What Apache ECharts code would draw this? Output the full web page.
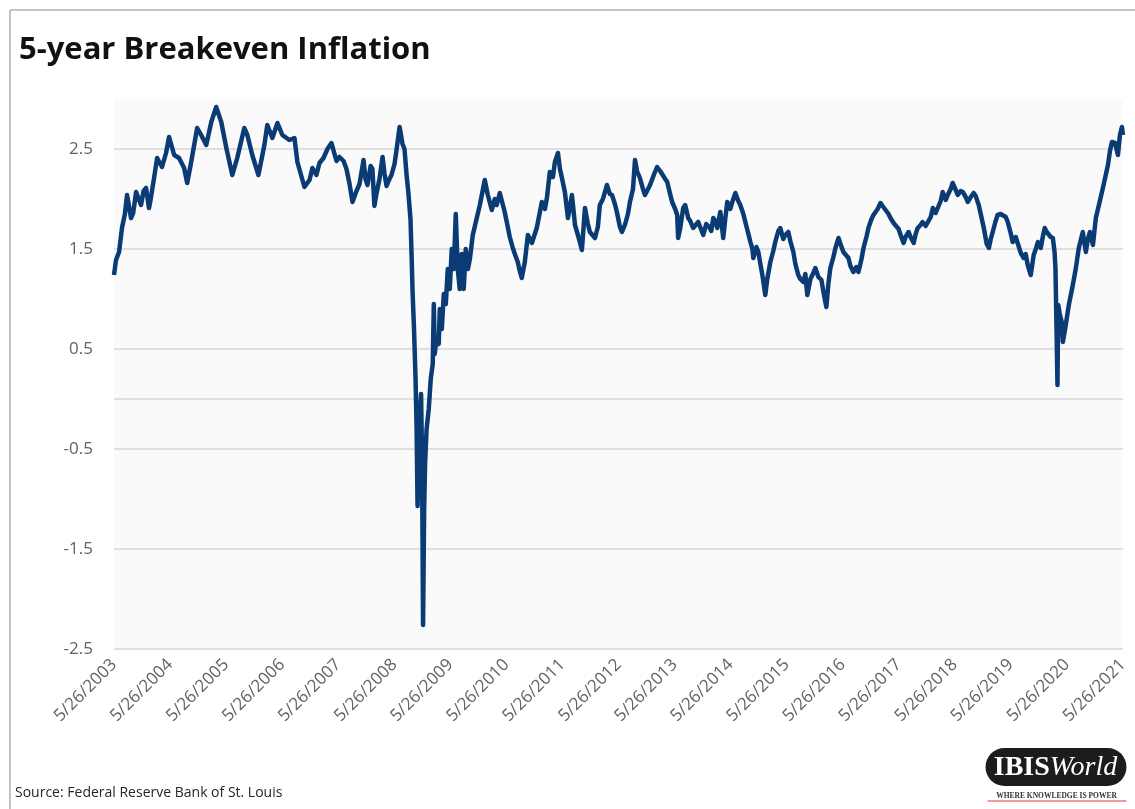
<!DOCTYPE html>
<html>
<head>
<meta charset="utf-8">
<script src="https://cdn.jsdelivr.net/npm/echarts@6/dist/echarts.min.js"></script>
<style>
  html, body { margin: 0; padding: 0; background: #ffffff; }
  #chart { width: 1135px; height: 809px; }
</style>
</head>
<body>
<div id="chart"></div>
<script>
// 5-year breakeven inflation rate (%), sampled observations
const dates = [
  '2003-05-26','2003-06-08','2003-06-28','2003-07-17','2003-08-05','2003-08-19','2003-09-01','2003-09-14','2003-09-28','2003-10-17','2003-10-30','2003-11-18','2003-12-05','2003-12-21',
  '2004-01-09','2004-01-20','2004-02-11','2004-03-02','2004-04-03','2004-04-29','2004-05-19','2004-06-21','2004-07-23','2004-08-25','2004-09-14','2004-10-10','2004-11-18','2004-12-14',
  '2005-01-16','2005-02-18','2005-03-22','2005-04-24','2005-05-27','2005-07-05','2005-08-06','2005-09-21','2005-10-11','2005-11-12','2005-12-22',
  '2006-01-30','2006-02-18','2006-03-23','2006-04-25','2006-05-27','2006-07-12','2006-08-14','2006-09-02','2006-10-18','2006-11-20','2006-12-09',
  '2007-01-04','2007-01-24','2007-02-19','2007-03-17','2007-04-12','2007-05-02','2007-05-15','2007-06-03','2007-06-30','2007-07-19','2007-08-08','2007-08-27','2007-09-22','2007-10-12','2007-11-07','2007-11-20','2007-12-03','2007-12-23',
  '2008-01-04','2008-01-17','2008-01-30','2008-02-19','2008-03-10','2008-03-23','2008-04-05','2008-04-24','2008-05-07','2008-05-27','2008-06-09','2008-06-29','2008-07-18','2008-07-31','2008-08-13','2008-08-26','2008-09-08','2008-09-15','2008-09-21','2008-10-01','2008-10-11','2008-10-18','2008-10-24','2008-10-31','2008-11-06','2008-11-16','2008-11-22','2008-11-29','2008-12-06','2008-12-12','2008-12-22',
  '2009-01-05','2009-01-18','2009-01-31','2009-02-07','2009-02-13','2009-02-26','2009-03-11','2009-03-18','2009-03-31','2009-04-13','2009-04-26','2009-05-09','2009-05-22','2009-06-04','2009-06-17','2009-06-30','2009-07-13','2009-07-26','2009-08-08','2009-08-21','2009-09-03','2009-09-17','2009-09-30','2009-10-19','2009-11-14','2009-12-04',
  '2010-01-05','2010-01-25','2010-02-20','2010-03-11','2010-03-24','2010-04-13','2010-04-26','2010-05-15','2010-06-04','2010-06-17','2010-07-07','2010-07-20','2010-08-08','2010-08-21','2010-09-03','2010-09-23','2010-10-13','2010-11-08','2010-12-10',
  '2011-01-12','2011-02-01','2011-02-14','2011-03-05','2011-03-25','2011-04-07','2011-04-27','2011-05-10','2011-05-23','2011-06-11','2011-07-01','2011-07-27','2011-08-16','2011-09-04','2011-09-30','2011-10-20','2011-11-08','2011-11-21','2011-12-24',
  '2012-01-12','2012-01-25','2012-02-14','2012-03-11','2012-03-30','2012-04-13','2012-05-02','2012-05-15','2012-06-04','2012-06-17','2012-07-06','2012-07-26','2012-08-08','2012-08-28','2012-09-10','2012-09-23','2012-10-12','2012-11-01','2012-11-14','2012-12-04','2012-12-17',
  '2013-01-13','2013-02-01','2013-02-21','2013-03-06','2013-03-26','2013-04-08','2013-04-27','2013-05-10','2013-05-30','2013-06-12','2013-06-18','2013-07-02','2013-07-21','2013-08-03','2013-08-23','2013-09-05','2013-09-24','2013-10-27','2013-11-29','2013-12-18',
  '2014-01-07','2014-01-20','2014-02-02','2014-02-15','2014-02-28','2014-03-20','2014-04-08','2014-04-21','2014-05-04','2014-05-24','2014-06-06','2014-06-26','2014-07-15','2014-07-28','2014-08-17','2014-08-30','2014-09-19','2014-10-02','2014-10-15','2014-10-21','2014-11-10','2014-11-23','2014-12-06','2014-12-19',
  '2015-01-07','2015-01-20','2015-02-09','2015-02-28','2015-03-13','2015-04-02','2015-04-15','2015-05-04','2015-05-17','2015-06-06','2015-06-19','2015-07-09','2015-07-22','2015-08-10','2015-08-23','2015-09-12','2015-09-25','2015-10-08','2015-10-28','2015-11-10','2015-11-29','2015-12-19',
  '2016-01-08','2016-01-21','2016-02-09','2016-02-22','2016-03-06','2016-03-26','2016-04-08','2016-04-28','2016-05-11','2016-05-30','2016-06-12','2016-07-02','2016-07-15','2016-08-03','2016-08-23','2016-09-05','2016-09-25','2016-10-08','2016-10-27','2016-11-09','2016-11-29','2016-12-12',
  '2017-01-08','2017-01-27','2017-02-09','2017-03-01','2017-03-20','2017-04-02','2017-04-22','2017-05-05','2017-05-25','2017-06-07','2017-06-26','2017-07-09','2017-07-29','2017-08-11','2017-08-31','2017-09-13','2017-09-26','2017-10-15','2017-10-28','2017-11-17','2017-11-30','2017-12-20',
  '2018-01-03','2018-01-21','2018-02-03','2018-02-23','2018-03-08','2018-03-28','2018-04-10','2018-04-29','2018-05-12','2018-06-01','2018-06-14','2018-07-03','2018-07-17','2018-08-05','2018-08-18','2018-09-07','2018-09-26','2018-10-09','2018-10-29','2018-11-11','2018-12-01','2018-12-20',
  '2019-01-03','2019-01-15','2019-01-28','2019-02-16','2019-03-01','2019-03-21','2019-04-03','2019-04-23','2019-05-06','2019-05-25','2019-06-07','2019-06-27','2019-07-10','2019-07-30','2019-08-18','2019-08-31','2019-09-13','2019-10-03','2019-10-22','2019-11-05','2019-11-18','2019-12-07','2019-12-20',
  '2020-01-02','2020-01-15','2020-01-28','2020-02-10','2020-02-24','2020-03-06','2020-03-12','2020-03-20','2020-03-25','2020-03-30','2020-04-09','2020-04-22','2020-04-29','2020-05-18','2020-06-07','2020-07-03','2020-07-23','2020-08-11','2020-09-06','2020-09-26','2020-10-09','2020-10-22','2020-11-11','2020-11-30','2020-12-20',
  '2021-01-15','2021-02-04','2021-02-17','2021-03-02','2021-03-15','2021-04-04','2021-04-23','2021-05-06','2021-05-19','2021-05-26'
];
const breakeven = [
  1.24,1.39,1.47,1.71,1.85,2.04,2.02,1.81,1.86,2.07,2.05,1.94,2.08,2.11,
  1.91,2.00,2.21,2.41,2.32,2.46,2.62,2.44,2.41,2.31,2.16,2.37,2.71,2.64,
  2.54,2.77,2.92,2.77,2.51,2.24,2.41,2.71,2.64,2.44,2.24,
  2.54,2.74,2.61,2.76,2.64,2.59,2.61,2.37,2.12,2.19,2.31,
  2.24,2.36,2.41,2.50,2.56,2.45,2.38,2.42,2.38,2.30,2.15,1.97,2.08,2.15,2.39,2.20,2.14,2.33,
  2.30,1.93,2.05,2.20,2.42,2.25,2.13,2.20,2.24,2.35,2.49,2.72,2.55,2.50,2.25,2.05,1.80,1.45,1.10,0.70,0.20,-0.30,-1.07,-0.60,-0.20,0.05,-0.55,-2.26,-1.10,-0.65,-0.30,
  -0.10,0.20,0.35,0.95,0.45,0.62,0.55,0.90,0.70,1.05,0.95,1.30,1.10,1.50,1.30,1.85,1.30,1.10,1.45,1.10,1.50,1.30,1.40,1.64,1.81,1.94,
  2.19,2.04,1.89,2.00,1.94,2.06,2.04,1.87,1.72,1.62,1.51,1.45,1.37,1.28,1.21,1.37,1.64,1.56,1.71,
  1.97,1.90,2.01,2.27,2.22,2.37,2.46,2.30,2.21,2.07,1.81,2.04,1.74,1.64,1.49,1.91,1.75,1.67,1.61,
  1.72,1.94,2.00,2.14,2.05,2.04,1.95,1.87,1.72,1.67,1.74,1.85,1.97,2.10,2.39,2.28,2.21,2.10,2.04,2.10,2.14,
  2.25,2.32,2.28,2.27,2.20,2.17,2.05,1.97,1.90,1.84,1.61,1.71,1.91,1.94,1.81,1.78,1.71,1.77,1.64,1.75,
  1.72,1.68,1.81,1.78,1.71,1.87,1.61,1.80,1.97,1.90,1.97,2.06,1.98,1.94,1.85,1.77,1.65,1.57,1.50,1.41,1.52,1.47,1.35,1.24,
  1.04,1.20,1.37,1.48,1.57,1.68,1.71,1.60,1.64,1.67,1.58,1.47,1.35,1.24,1.20,1.17,1.25,1.04,1.20,1.24,1.31,1.22,
  1.19,1.07,0.92,1.15,1.31,1.42,1.51,1.61,1.55,1.47,1.45,1.41,1.33,1.27,1.32,1.27,1.40,1.51,1.62,1.71,1.80,1.84,
  1.90,1.96,1.93,1.89,1.85,1.81,1.76,1.74,1.70,1.64,1.56,1.62,1.67,1.62,1.56,1.65,1.71,1.74,1.77,1.73,1.72,1.82,
  1.91,1.86,1.87,1.98,2.07,1.99,2.04,2.10,2.16,2.09,2.04,2.08,2.07,2.02,1.97,2.02,2.06,2.03,1.94,1.85,1.71,1.55,
  1.51,1.60,1.67,1.78,1.84,1.85,1.86,1.82,1.77,1.66,1.57,1.62,1.61,1.46,1.41,1.45,1.34,1.24,1.44,1.50,1.57,1.51,1.62,
  1.71,1.67,1.66,1.62,1.61,1.47,1.30,0.60,0.14,0.94,0.85,0.77,0.57,0.74,0.94,1.14,1.31,1.51,1.67,1.47,1.60,1.67,1.54,1.81,1.94,
  2.11,2.25,2.34,2.48,2.57,2.56,2.44,2.64,2.72,2.64
];

// Axis ticks
const xTickDates = [
  '2003-05-26','2004-05-26','2005-05-26','2006-05-26','2007-05-26','2008-05-26','2009-05-26',
  '2010-05-26','2011-05-26','2012-05-26','2013-05-26','2014-05-26','2015-05-26','2016-05-26',
  '2017-05-26','2018-05-26','2019-05-26','2020-05-26','2021-05-26'
];
const yTicks = [-2.5, -1.5, -0.5, 0.5, 1.5, 2.5];

// dates are placed on a numeric (millisecond) axis so the yearly ticks can sit on 5/26
const toTime = s => {
  const p = s.split('-').map(Number);
  return new Date(p[0], p[1] - 1, p[2]).getTime();
};
const xTickValues = xTickDates.map(toTime);
const seriesData = dates.map((d, i) => [toTime(d), breakeven[i]]);

const chart = echarts.init(document.getElementById('chart'), null, { renderer: 'canvas' });

const labelFont = '"Open Sans", "Noto Sans", sans-serif';

chart.setOption({
  animation: false,
  backgroundColor: '#ffffff',
  title: {
    text: '5-year Breakeven Inflation',
    left: 19,
    top: 35,
    padding: 0,
    textStyle: {
      fontFamily: labelFont,
      fontWeight: 'bold',
      fontSize: 31,
      color: '#111111'
    }
  },
  grid: {
    left: 114,
    right: 12,
    top: 99,
    bottom: 160,
    show: true,
    backgroundColor: '#fafafa',
    borderWidth: 0,
    containLabel: false,
    outerBoundsMode: 'none'
  },
  xAxis: {
    type: 'value',
    min: xTickValues[0],
    max: xTickValues[xTickValues.length - 1],
    axisLine: { show: false, onZero: false },
    axisTick: { show: false, customValues: xTickValues },
    splitLine: { show: false },
    axisLabel: {
      customValues: xTickValues,
      rotate: 45,
      margin: 13,
      color: '#626262',
      fontFamily: labelFont,
      fontSize: 17,
      hideOverlap: false,
      showMinLabel: true,
      showMaxLabel: true,
      formatter: function (value) {
        const d = new Date(value);
        return (d.getMonth() + 1) + '/' + d.getDate() + '/' + d.getFullYear();
      }
    }
  },
  yAxis: {
    type: 'value',
    min: -2.5,
    max: 3,
    axisLine: { show: false },
    axisTick: { show: false, customValues: yTicks },
    axisLabel: {
      customValues: yTicks,
      margin: 21,
      color: '#626262',
      fontFamily: labelFont,
      fontSize: 17,
      formatter: v => String(v)
    },
    splitLine: { show: true, lineStyle: { color: '#d6d6d6', width: 1.5 } }
  },
  series: [{
    name: '5-year Breakeven Inflation',
    type: 'line',
    data: seriesData,
    showSymbol: false,
    symbol: 'none',
    lineStyle: { color: '#0b3b74', width: 4.5, join: 'round' },
    markLine: {
      silent: true,
      symbol: 'none',
      label: { show: false },
      lineStyle: { color: '#d6d6d6', type: 'solid', width: 1.5 },
      data: [{ yAxis: 0 }],
      z: 1
    },
    z: 3
  }],
  graphic: [
    // outer frame
    { type: 'line', shape: { x1: 10, y1: 10, x2: 1135, y2: 10 }, style: { stroke: '#c4c4c4', lineWidth: 2 }, silent: true },
    { type: 'line', shape: { x1: 10, y1: 10, x2: 10, y2: 809 }, style: { stroke: '#c4c4c4', lineWidth: 2 }, silent: true },
    // source note
    {
      type: 'text', left: 15, top: 786, silent: true,
      style: { text: 'Source: Federal Reserve Bank of St. Louis', fontFamily: labelFont, fontSize: 14, fill: '#262626' }
    },
    // publisher mark
    {
      type: 'group', left: 985, top: 748, silent: true,
      children: [
        { type: 'rect', shape: { x: 0, y: 0, width: 141, height: 38, r: 19 }, style: { fill: '#1c1c1c' } },
        {
          type: 'text', x: 70, y: 20,
          style: {
            text: '{a|IBIS}{b|World}',
            align: 'center', verticalAlign: 'middle',
            rich: {
              a: { fontFamily: '"Liberation Serif", "DejaVu Serif", serif', fontWeight: 'bold', fontSize: 28, fill: '#ffffff', color: '#ffffff' },
              b: { fontFamily: '"Liberation Serif", "DejaVu Serif", serif', fontStyle: 'italic', fontSize: 28, fill: '#ffffff', color: '#ffffff' }
            }
          }
        },
        {
          type: 'text', x: 71, y: 48,
          style: {
            text: 'WHERE KNOWLEDGE IS POWER',
            align: 'center', verticalAlign: 'middle',
            fontFamily: '"Liberation Serif", serif', fontWeight: 'bold', fontSize: 7.5, fill: '#333333'
          }
        },
        { type: 'line', shape: { x1: 2, y1: 53, x2: 141, y2: 53 }, style: { stroke: '#d23a3a', lineWidth: 1 } }
      ]
    }
  ]
});
</script>
</body>
</html>
